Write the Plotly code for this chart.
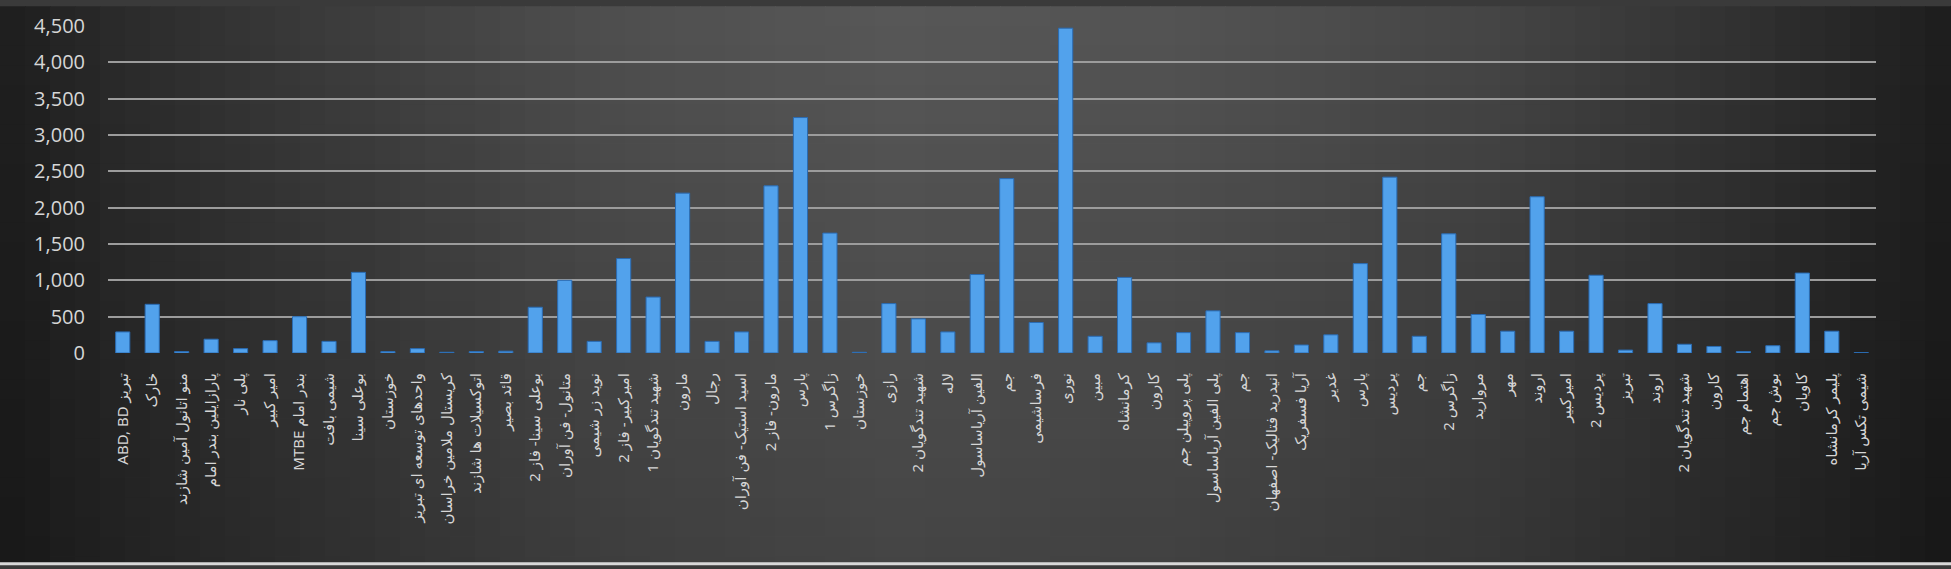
import plotly.graph_objects as go

labels = [
    "ABD, BD تبریز", "خارک", "منو اتانول آمین شازند", "پارازایلین بندر امام", "پلی نار",
    "امیر کبیر", "MTBE بندر امام", "شیمی بافت", "بوعلی سینا", "خوزستان",
    "واحدهای توسعه ای تبریز", "کریستال ملامین خراسان", "اتوکسیلات ها شازند", "قائد بصیر", "بوعلی سینا- فاز 2",
    "متانول- فن آوران", "نوید زر شیمی", "امیرکبیر- فاز 2", "شهید تندگویان 1", "مارون",
    "رجال", "اسید استیک- فن آوران", "مارون- فاز 2", "پارس", "زاگرس 1",
    "خوزستان", "رازی", "شهید تندگویان 2", "لاله", "الفین آریاساسول",
    "جم", "فرساشیمی", "نوری", "مبین", "کرمانشاه",
    "کارون", "پلی پروپیلن جم", "پلی الفین آریاساسول", "جم", "انیدرید فتالیک- اصفهان",
    "آریا فسفریک", "غدیر", "پارس", "پردیس", "جم",
    "زاگرس 2", "مروارید", "مهر", "اروند", "امیرکبیر",
    "پردیس 2", "تبریز", "اروند", "شهید تندگویان 2", "کارون",
    "اهتمام جم", "بوش جم", "کاویان", "پلیمر کرمانشاه", "شیمی تکس آریا",
]

values = [
    290, 670, 20, 190, 60, 170, 500, 160, 1110, 20,
    60, 10, 20, 25, 630, 1000, 160, 1300, 770, 2200,
    160, 290, 2300, 3240, 1650, 10, 680, 470, 290, 1080,
    2400, 420, 4470, 230, 1040, 140, 280, 580, 280, 30,
    110, 250, 1230, 2420, 230, 1640, 530, 300, 2150, 300,
    1070, 40, 680, 120, 90, 20, 100, 1100, 300, 5,
]

y_ticks = [0, 500, 1000, 1500, 2000, 2500, 3000, 3500, 4000, 4500]

positions = list(range(len(labels)))

W, H = 1951, 569
ML, MR, MT, MB = 108, 75, 20, 216
PW = W - ML - MR
PH = H - MT - MB

fig = go.Figure()
fig.add_trace(go.Bar(
    x=positions, y=values,
    marker=dict(color="#52a2ec", line=dict(color="#2a6cb4", width=1)),
    width=0.48,
))

# background gradient (decoration)
def px2x(px):
    return (px - ML) / PW

def py2y(py):
    return (H - MB - py) / PH

prof = [(0, 0x1e), (100, 0x2a), (300, 0x3a), (600, 0x4f), (900, 0x58),
        (1200, 0x53), (1500, 0x45), (1750, 0x31), (1951, 0x1e)]

def light(px):
    for (a, la), (b, lb) in zip(prof[:-1], prof[1:]):
        if a <= px <= b:
            return la + (lb - la) * (px - a) / (b - a)
    return prof[-1][1]

shapes = []
step = 25
for x0 in range(0, W, step):
    x1 = min(x0 + step, W)
    L = int(round(light((x0 + x1) / 2)))
    shapes.append(dict(type="rect", xref="paper", yref="paper",
                       x0=px2x(x0), x1=px2x(x1 + 1), y0=py2y(H), y1=py2y(0),
                       fillcolor=f"rgb({L},{L},{L})", line=dict(width=0), layer="below"))
vstep = 20
for y0 in range(0, H, vstep):
    y1 = min(y0 + vstep, H)
    a = 0.22 * ((y0 + y1) / 2) / H
    shapes.append(dict(type="rect", xref="paper", yref="paper",
                       x0=px2x(0), x1=px2x(W), y0=py2y(y1), y1=py2y(y0),
                       fillcolor=f"rgba(0,0,0,{a:.3f})", line=dict(width=0), layer="below"))
shapes.append(dict(type="line", xref="paper", yref="paper",
                   x0=px2x(0), x1=px2x(W), y0=py2y(H - 1.5), y1=py2y(H - 1.5),
                   line=dict(color="#d8d8d8", width=3), layer="above"))

fig.update_layout(
    width=W, height=H,
    margin=dict(l=ML, r=MR, t=MT, b=MB),
    paper_bgcolor="#3a3a3a",
    plot_bgcolor="rgba(0,0,0,0)",
    showlegend=False,
    shapes=shapes,
    bargap=0.52,
    font=dict(family="Open Sans, Noto Sans, DejaVu Sans, sans-serif", color="#d6d6d6"),
)
fig.update_xaxes(
    range=[-0.5, len(labels) - 0.5],
    tickmode="array", tickvals=positions, ticktext=labels,
    tickangle=-90, tickfont=dict(size=15, color="#d6d6d6",
                                 family="Noto Sans, DejaVu Sans, sans-serif"),
    showgrid=False, zeroline=False, showline=False, ticks="",
    ticklabelstandoff=16,
)
fig.update_yaxes(
    range=[0, 4500],
    tickmode="array", tickvals=y_ticks,
    tickformat=",", tickfont=dict(size=20, color="#d6d6d6"),
    showgrid=True, gridcolor="#9c9c9c", gridwidth=1.5,
    zeroline=False, showline=False, ticks="",
    ticklabelstandoff=22,
)

fig.write_html("out.html",
               config={"displayModeBar": False},
               post_script="document.body.style.margin='0';document.body.style.overflow='hidden';")
